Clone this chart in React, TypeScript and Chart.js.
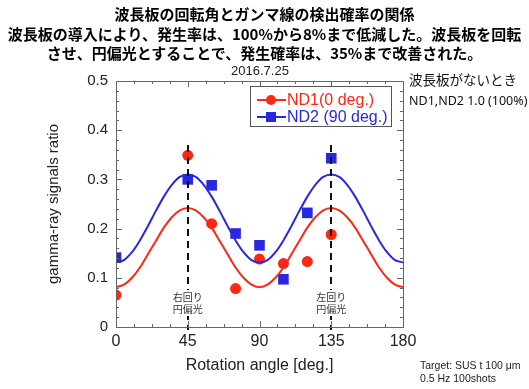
import React, { useEffect, useRef } from "react";
import { Chart, registerables } from "chart.js";

Chart.register(...registerables);

// Measured points (rotation angle in degrees)
const angles = [0, 45, 60, 75, 90, 105, 120, 135];
const nd1Values = [0.065, 0.349, 0.21, 0.078, 0.138, 0.129, 0.133, 0.188];
const nd2Values = [0.141, 0.3, 0.288, 0.19, 0.166, 0.097, 0.232, 0.343];

// Fitted curves every 5 degrees
const fitAngles = [
  0, 5, 10, 15, 20, 25, 30, 35, 40, 45, 50, 55, 60, 65, 70, 75, 80, 85, 90,
  95, 100, 105, 110, 115, 120, 125, 130, 135, 140, 145, 150, 155, 160, 165, 170, 175, 180,
];
const nd1Fit = [
  0.081, 0.086, 0.1, 0.121, 0.148, 0.175, 0.202, 0.223, 0.237, 0.242,
  0.237, 0.223, 0.202, 0.175, 0.148, 0.121, 0.1, 0.086, 0.081,
  0.086, 0.1, 0.121, 0.148, 0.175, 0.202, 0.223, 0.237, 0.242,
  0.237, 0.223, 0.202, 0.175, 0.148, 0.121, 0.1, 0.086, 0.081,
];
const nd2Fit = [
  0.131, 0.136, 0.152, 0.176, 0.205, 0.236, 0.265, 0.289, 0.305, 0.31,
  0.305, 0.289, 0.265, 0.236, 0.205, 0.176, 0.152, 0.136, 0.131,
  0.136, 0.152, 0.176, 0.205, 0.236, 0.265, 0.289, 0.305, 0.31,
  0.305, 0.289, 0.265, 0.236, 0.205, 0.176, 0.152, 0.136, 0.131,
];

const seriesLabels = ["ND1(0 deg.)", "ND2 (90 deg.)"];
const markerAngles = [45, 135];
const markerTop = 0.37;
const markerNotes = [
  ["右回り", "円偏光"],
  ["左回り", "円偏光"],
];

const titleLines = [
  "波長板の回転角とガンマ線の検出確率の関係",
  "波長板の導入により、発生率は、100%から8%まで低減した。波長板を回転",
  "させ、円偏光とすることで、発生確率は、35%まで改善された。",
];

const RED = "rgb(255,38,20)";
const BLUE = "rgb(40,40,225)";
const SANS = "'Liberation Sans', Arial, sans-serif";
const JP = "'Noto Sans CJK JP', sans-serif";

const overlay = {
  id: "overlay",
  afterDatasetsDraw(chart: any) {
    const { ctx, chartArea: a, scales } = chart;
    const x = scales.x;
    const y = scales.y;
    ctx.save();
    // dashed vertical markers
    ctx.strokeStyle = "#111";
    ctx.lineWidth = 2;
    ctx.setLineDash([7, 5]);
    markerAngles.forEach((ang) => {
      const px = Math.round(x.getPixelForValue(ang));
      ctx.beginPath();
      ctx.moveTo(px, y.getPixelForValue(markerTop));
      ctx.lineTo(px, a.bottom + 3);
      ctx.stroke();
    });
    ctx.setLineDash([]);
    // notes (white backing hides the dashed line behind the text)
    ctx.font = `10px ${JP}`;
    ctx.textAlign = "center";
    ctx.textBaseline = "middle";
    markerAngles.forEach((ang, i) => {
      const px = x.getPixelForValue(ang);
      ctx.fillStyle = "#fff";
      ctx.fillRect(px - 17, 290, 34, 26);
      ctx.fillStyle = "#333";
      ctx.fillText(markerNotes[i][0], px, 297);
      ctx.fillText(markerNotes[i][1], px, 309);
    });
    ctx.restore();
  },
  afterDraw(chart: any) {
    const { ctx, chartArea: a, scales } = chart;
    const x = scales.x;
    const y = scales.y;
    ctx.save();
    ctx.strokeStyle = "#666";
    ctx.lineWidth = 1;
    ctx.strokeRect(Math.round(a.left) + 0.5, Math.round(a.top) + 0.5, Math.round(a.right - a.left), Math.round(a.bottom - a.top));
    ctx.beginPath();
    for (let i = 0; i <= 16; i++) {
      const v = x.min + ((x.max - x.min) * i) / 16;
      const px = Math.round(x.getPixelForValue(v)) + 0.5;
      const len = i % 4 === 0 ? 6 : 3;
      ctx.moveTo(px, a.bottom);
      ctx.lineTo(px, a.bottom - len);
      ctx.moveTo(px, a.top);
      ctx.lineTo(px, a.top + len);
    }
    for (let i = 0; i <= 25; i++) {
      const v = y.min + ((y.max - y.min) * i) / 25;
      const py = Math.round(y.getPixelForValue(v)) + 0.5;
      const len = i % 5 === 0 ? 6 : 3;
      ctx.moveTo(a.left, py);
      ctx.lineTo(a.left + len, py);
      ctx.moveTo(a.right, py);
      ctx.lineTo(a.right - len, py);
    }
    ctx.stroke();

    // legend
    const bx = 250, by = 86, bw = 141, bh = 40;
    ctx.fillStyle = "#fff";
    ctx.fillRect(bx, by, bw, bh);
    ctx.strokeStyle = "#555";
    ctx.strokeRect(bx + 0.5, by + 0.5, bw, bh);
    const colors = [RED, BLUE];
    colors.forEach((c, i) => {
      const ly = by + 14 + i * 17;
      ctx.strokeStyle = c;
      ctx.lineWidth = 2;
      ctx.beginPath();
      ctx.moveTo(bx + 7, ly);
      ctx.lineTo(bx + 36, ly);
      ctx.stroke();
      ctx.fillStyle = c;
      if (i === 0) {
        ctx.beginPath();
        ctx.arc(bx + 21, ly, 5, 0, Math.PI * 2);
        ctx.fill();
      } else {
        ctx.fillRect(bx + 16, ly - 5, 10, 10);
      }
      ctx.font = `16px ${SANS}`;
      ctx.textAlign = "left";
      ctx.textBaseline = "middle";
      ctx.fillText(seriesLabels[i], bx + 37, ly + 1);
    });
    ctx.restore();
  },
};

export default function App() {
  const ref = useRef<HTMLCanvasElement>(null);
  useEffect(() => {
    document.body.style.margin = "0";
    const chart = new Chart(ref.current!, {
      type: "scatter",
      data: {
        datasets: [
          {
            label: seriesLabels[0] + " fit",
            data: fitAngles.map((a, i) => ({ x: a, y: nd1Fit[i] })),
            showLine: true,
            borderColor: RED,
            borderWidth: 2,
            pointRadius: 0,
            tension: 0.3,
          },
          {
            label: seriesLabels[1] + " fit",
            data: fitAngles.map((a, i) => ({ x: a, y: nd2Fit[i] })),
            showLine: true,
            borderColor: BLUE,
            borderWidth: 2,
            pointRadius: 0,
            tension: 0.3,
          },
          {
            label: seriesLabels[0],
            data: angles.map((a, i) => ({ x: a, y: nd1Values[i] })),
            pointStyle: "circle",
            pointRadius: 5.5,
            backgroundColor: RED,
            borderWidth: 0,
          },
          {
            label: seriesLabels[1],
            data: angles.map((a, i) => ({ x: a, y: nd2Values[i] })),
            pointStyle: "rect",
            pointRadius: 7.5,
            backgroundColor: BLUE,
            borderWidth: 0,
          },
        ],
      },
      options: {
        animation: false,
        responsive: false,
        layout: { padding: { top: 81, right: 126, left: 0, bottom: 0 } },
        plugins: { legend: { display: false }, tooltip: { enabled: false } },
        scales: {
          x: {
            type: "linear",
            min: 0,
            max: 180,
            ticks: { stepSize: 45, color: "#222", font: { size: 16, family: SANS }, padding: 5, maxRotation: 0 },
            grid: { display: false, drawTicks: false },
            border: { display: false },
            title: { display: true, text: "Rotation angle [deg.]", color: "#222", font: { size: 16, family: SANS }, padding: { bottom: 14 } },
            afterFit: (s: any) => { s.height = 62; },
          },
          y: {
            min: 0,
            max: 0.5,
            ticks: { stepSize: 0.1, color: "#222", font: { size: 15, family: SANS }, padding: 8 },
            grid: { display: false, drawTicks: false },
            border: { display: false },
            title: { display: true, text: "gamma-ray signals ratio", color: "#222", font: { size: 15, family: SANS }, padding: { top: 45 } },
            afterFit: (s: any) => { s.width = 116; },
          },
        },
      },
      plugins: [overlay],
    });
    return () => chart.destroy();
  }, []);

  const abs = (style: React.CSSProperties): React.CSSProperties => ({ position: "absolute", whiteSpace: "nowrap", ...style });

  return (
    <div style={{ position: "absolute", left: 0, top: 0, width: 529, height: 389, overflow: "hidden", background: "#fff" }}>
      <canvas ref={ref} width={529} height={389} style={{ position: "absolute", left: 0, top: 0 }} />
      {titleLines.map((t, i) => (
        <div key={i} style={abs({ left: 0, width: 529, top: 4 + i * 19.5, lineHeight: "20px", textAlign: "center", fontFamily: JP, fontWeight: 700, fontSize: 15, color: "#000" })}>
          {t}
        </div>
      ))}
      <div style={abs({ left: 200, width: 120, top: 63, lineHeight: "16px", textAlign: "center", fontFamily: SANS, fontSize: 13, color: "#222" })}>2016.7.25</div>
      <div style={abs({ left: 409, top: 70, lineHeight: "18px", fontFamily: JP, fontSize: 13.5, color: "#111" })}>波長板がないとき</div>
      <div style={abs({ left: 409, top: 93, lineHeight: "16px", fontFamily: "'Noto Sans', sans-serif", fontSize: 12.5, color: "#111" })}>ND1,ND2 1.0 (100%)</div>
      <div style={abs({ left: 420, top: 359, lineHeight: "13px", fontFamily: SANS, fontSize: 10.5, color: "#222" })}>Target: SUS t 100 μm</div>
      <div style={abs({ left: 420, top: 372, lineHeight: "13px", fontFamily: SANS, fontSize: 10.5, color: "#222" })}>0.5 Hz 100shots</div>
    </div>
  );
}
